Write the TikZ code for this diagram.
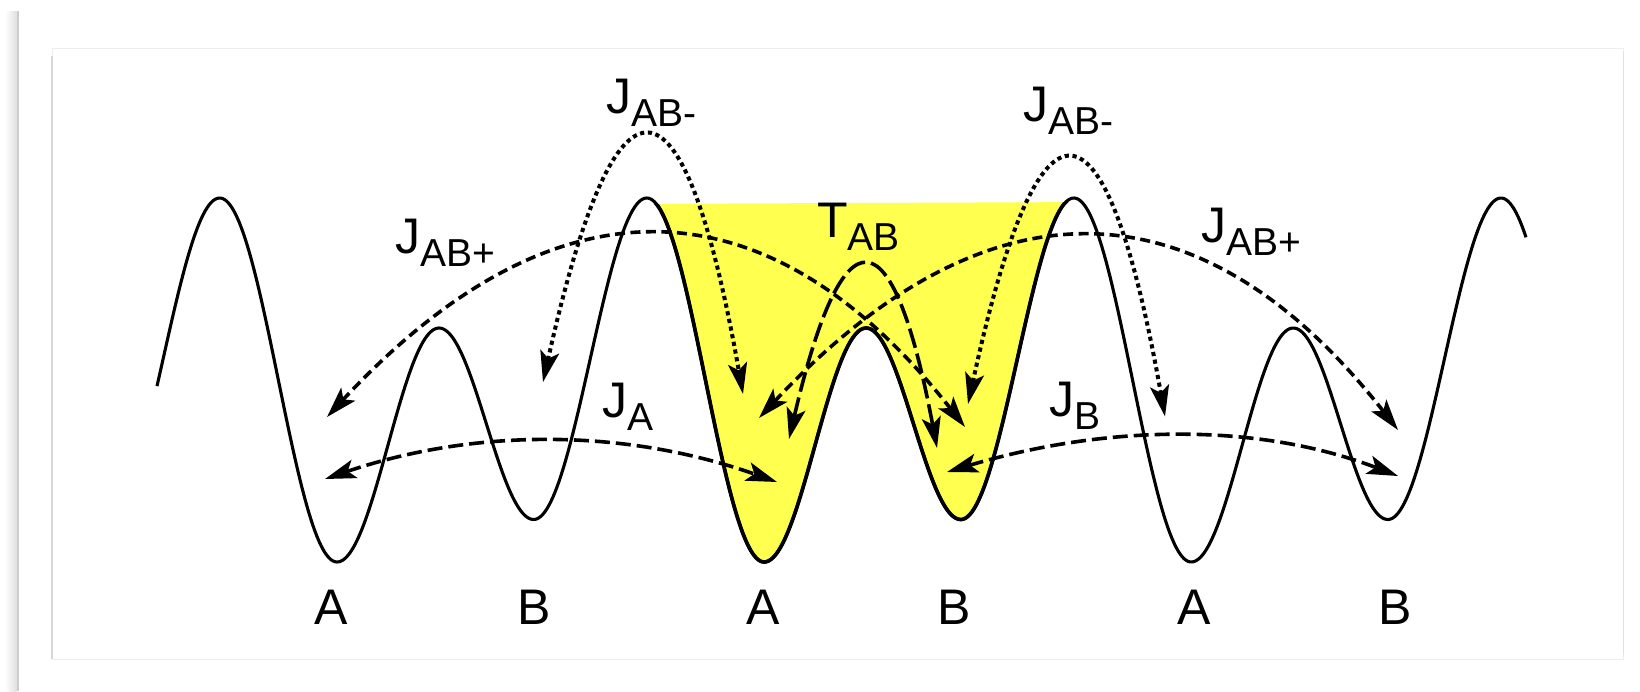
\documentclass[tikz,border=0pt]{standalone}
\usepackage{fontspec}
\setmainfont{Liberation Sans}
\usetikzlibrary{arrows.meta,calc}
\definecolor{yel}{RGB}{255,255,80}
\newcommand\lab[2]{{\fontsize{50}{50}\selectfont #1}\raisebox{-13pt}{\fontsize{39}{39}\selectfont #2}}
\begin{document}
\begin{tikzpicture}[x=1pt,y=-1pt,line join=round,
  curve/.style={line width=3.1pt},
  arr/.style={line width=3.6pt,{Stealth[length=31pt,width=19pt,inset=7pt]}-{Stealth[length=31pt,width=19pt,inset=7pt]}},
  ja/.style={arr,dash pattern=on 15pt off 6pt},
  jp/.style={arr,dash pattern=on 10pt off 5.5pt},
  jm/.style={arr,line width=4pt,dash pattern=on 4.2pt off 3.6pt},
  tab/.style={arr,dash pattern=on 20pt off 6pt},
  lbl/.style={inner sep=0pt,font=\fontsize{50}{50}\selectfont},
  declare function={
    ph(\x)=mod(\x-219.7+854.2,427.1);
    wv(\x)=(ph(\x)<117.3) ? (198+182*(1-cos(ph(\x)/117.3*180))) :
      ((ph(\x)<219.3) ? (562-117*(1-cos((ph(\x)-117.3)/102*180))) :
      ((ph(\x)<314) ? (328+95.75*(1-cos((ph(\x)-219.3)/94.7*180))) :
      (519.5-160.75*(1-cos((ph(\x)-314)/113.1*180)))));
  }]
\useasboundingbox (0,0) rectangle (1640,691);
\fill[white] (0,0) rectangle (1640,691);
% page shadow and card
\shade[left color=white,right color=black!12] (5,11) rectangle (16.5,691);
\fill[black!20] (16.5,11) rectangle (19,691);
\draw[black!7,line width=1pt] (52,48) rectangle (1623,659);
\draw[black!16,line width=1.2pt] (52,56) -- (52,659);
\draw[black!12,line width=1pt] (1623,52) -- (1623,655);
% yellow well
\begin{scope}
  \clip (600,204) -- (1100,202) -- (1100,600) -- (600,600) -- cycle;
  \fill[yel] plot[domain=646.8:1073.9,samples=215,variable=\x] (\x,{wv(\x)}) -- cycle;
  \draw[curve,line width=3.7pt] plot[domain=646.8:1073.9,samples=215,variable=\x] (\x,{wv(\x)});
\end{scope}
% potential curve
\draw[curve] plot[domain=157:1526,samples=686,variable=\x] (\x,{wv(\x)});
% end points and control points
\coordinate (jaL) at (325,479); \coordinate (jaR) at (777,482); \coordinate (jaC) at (551,402);
\coordinate (jbL) at (947,472); \coordinate (jbR) at (1398,476); \coordinate (jbC) at (1195,398);
\coordinate (jpL1) at (327,417); \coordinate (jpR1) at (965,427); \coordinate (jpC1) at (668,50);
\coordinate (jpL2) at (759,418); \coordinate (jpR2) at (1398,430); \coordinate (jpC2) at (1102,52);
\coordinate (jmL1) at (543,382); \coordinate (jmR1) at (743,394); \coordinate (jmC1) at (653,-112);
\coordinate (jmL2) at (968,404); \coordinate (jmR2) at (1165,416.5); \coordinate (jmC2) at (1075,-88);
\coordinate (tL) at (789,439); \coordinate (tR) at (937,448); \coordinate (tC) at (870,92);
% connectors
\draw[ja] (jaL) .. controls ($(jaL)!2/3!(jaC)$) and ($(jaR)!2/3!(jaC)$) .. (jaR);
\draw[ja] (jbL) .. controls ($(jbL)!2/3!(jbC)$) and ($(jbR)!2/3!(jbC)$) .. (jbR);
\draw[jp] (jpL1) .. controls ($(jpL1)!2/3!(jpC1)$) and ($(jpR1)!2/3!(jpC1)$) .. (jpR1);
\draw[jp] (jpL2) .. controls ($(jpL2)!2/3!(jpC2)$) and ($(jpR2)!2/3!(jpC2)$) .. (jpR2);
\draw[jm] (jmL1) .. controls ($(jmL1)!2/3!(jmC1)$) and ($(jmR1)!2/3!(jmC1)$) .. (jmR1);
\draw[jm] (jmL2) .. controls ($(jmL2)!2/3!(jmC2)$) and ($(jmR2)!2/3!(jmC2)$) .. (jmR2);
\draw[tab] (tL) .. controls ($(tL)!2/3!(tC)$) and ($(tR)!2/3!(tC)$) .. (tR);
% labels
\node[lbl,anchor=base west] (lJm1) at (606,113) {\lab{J}{AB-}};
\node[lbl,anchor=base west] (lJm2) at (1023,121) {\lab{J}{AB-}};
\node[lbl,anchor=base west] (lJp1) at (395,253) {\lab{J}{AB+}};
\node[lbl,anchor=base west] (lJp2) at (1201,242) {\lab{J}{AB+}};
\node[lbl,anchor=base west] (lJa) at (602,417) {\lab{J}{A}};
\node[lbl,anchor=base west] (lJb) at (1049,416) {\lab{J}{B}};
\node[lbl,anchor=base west] (lT) at (817,237) {\lab{T}{AB}};
\node[lbl,anchor=base] (a1) at (331.5,624) {A};
\node[lbl,anchor=base] (b1) at (534.5,624) {B};
\node[lbl,anchor=base] (a2) at (763.5,624) {A};
\node[lbl,anchor=base] (b2) at (954.5,624) {B};
\node[lbl,anchor=base] (a3) at (1194,624) {A};
\node[lbl,anchor=base] (b3) at (1395.5,624) {B};
\end{tikzpicture}
\end{document}
